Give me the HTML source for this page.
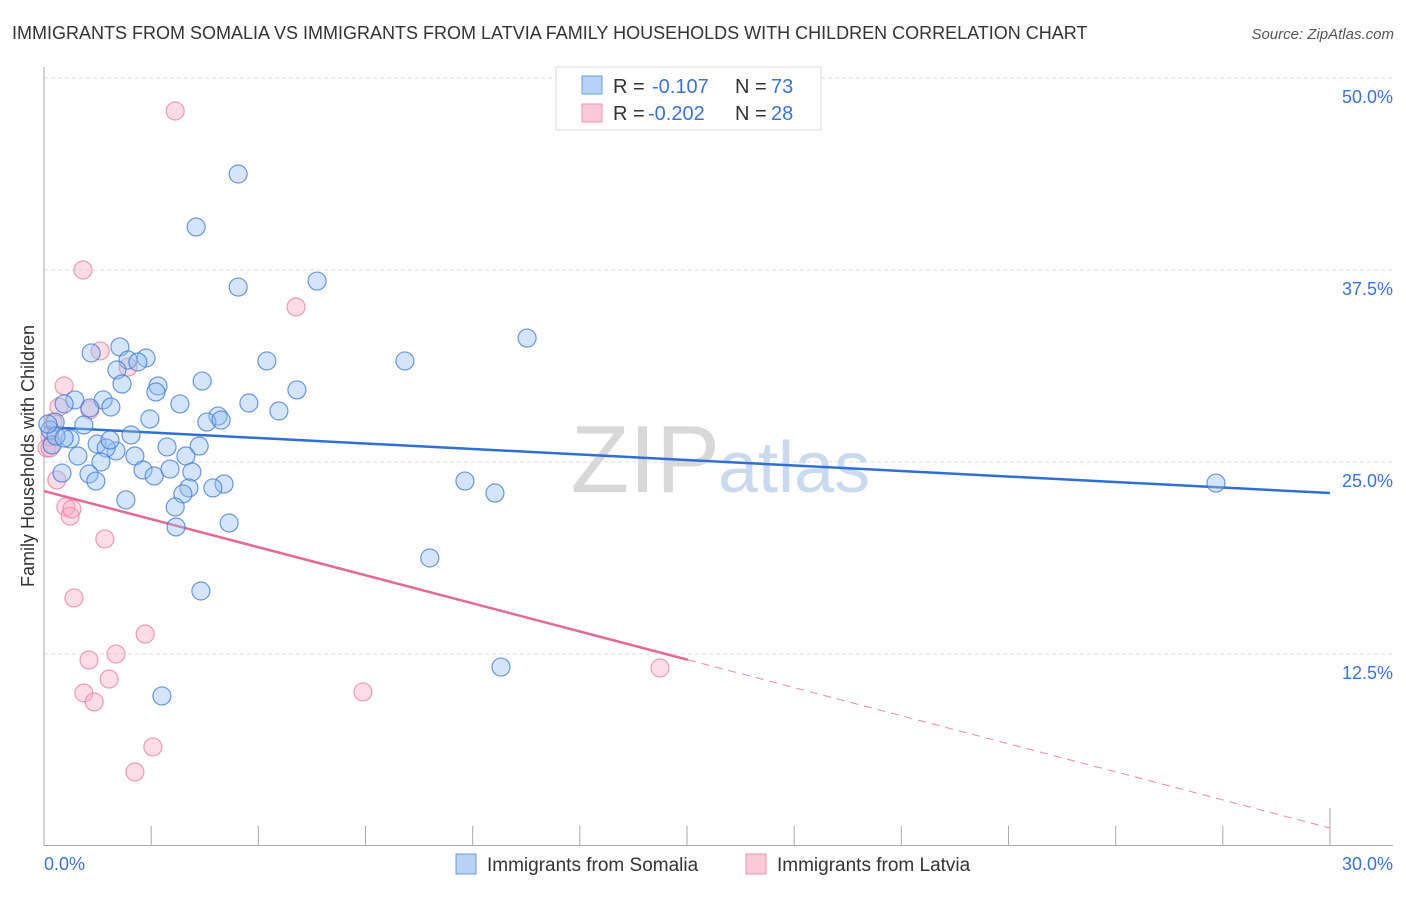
<!DOCTYPE html>
<html><head><meta charset="utf-8"><style>
body{margin:0;background:#fff;font-family:"Liberation Sans",sans-serif;}
svg text{font-family:"Liberation Sans",sans-serif;}
</style></head><body>
<svg id="chart" width="1406" height="892" xmlns="http://www.w3.org/2000/svg">
<text x="12" y="39" font-size="18" fill="#333">IMMIGRANTS FROM SOMALIA VS IMMIGRANTS FROM LATVIA FAMILY HOUSEHOLDS WITH CHILDREN CORRELATION CHART</text>
<text x="1394" y="39" font-size="15" fill="#555" font-style="italic" text-anchor="end">Source: ZipAtlas.com</text>
<text x="720" y="492" font-size="96" fill="#d8d8d8" font-family="Liberation Serif" text-anchor="end">ZIP</text>
<text x="718" y="492" font-size="72" fill="#c9d9f0">atlas</text>
<g id="grid"></g><g id="axes"></g><g id="lines"></g><g id="pts"></g>
<text transform="translate(34,456) rotate(-90)" font-size="18" fill="#333" text-anchor="middle">Family Households with Children</text>
<g>
<rect x="556" y="67" width="265" height="63" fill="#fff" stroke="#ddd"/>
<rect x="582" y="76" width="20" height="18" fill="#b8d2f5" stroke="#6a9ee0"/>
<rect x="582" y="104" width="20" height="18" fill="#fcc9d8" stroke="#ec93ae"/>
<text x="613" y="93" font-size="20" fill="#333">R = </text><text x="652" y="93" font-size="20" fill="#3a74d0">-0.107</text>
<text x="735" y="93" font-size="20" fill="#333">N = </text><text x="771" y="93" font-size="20" fill="#3a74d0">73</text>
<text x="613" y="120" font-size="20" fill="#333">R = </text><text x="648" y="120" font-size="20" fill="#3a74d0">-0.202</text>
<text x="735" y="120" font-size="20" fill="#333">N = </text><text x="771" y="120" font-size="20" fill="#3a74d0">28</text>
</g>
<g>
<rect x="456" y="854" width="20" height="20" fill="#b8d2f5" stroke="#6a9ee0"/>
<text x="487" y="871" font-size="19" fill="#333">Immigrants from Somalia</text>
<rect x="746" y="854" width="20" height="20" fill="#fcc9d8" stroke="#ec93ae"/>
<text x="777" y="871" font-size="19" fill="#333">Immigrants from Latvia</text>
</g>
</svg>
<script>
const xTicks=[0,2.5,5,7.5,10,12.5,15,17.5,20,22.5,25,27.5,30];
const yTicks=[12.5,25,37.5,50];
const yTickLabels=["12.5%","25.0%","37.5%","50.0%"];
const somaliaX=[4.53,3.55,4.53,6.37,11.27,1.10,1.77,2.38,1.96,2.19,5.20,8.42,1.70,1.82,2.66,3.69,2.61,5.90,0.72,1.38,0.47,1.07,1.56,3.17,4.78,5.48,2.47,4.06,3.80,4.13,0.93,0.26,2.03,0.61,1.24,1.68,1.45,2.87,3.62,0.79,2.12,3.31,1.33,2.31,3.45,2.57,2.94,1.05,0.42,1.21,9.82,4.20,3.94,3.38,3.24,10.52,1.91,3.06,4.32,3.08,9.00,3.66,10.66,2.75,27.34,0.14,0.19,0.28,0.09,0.47,1.54];
const somaliaY=[43.75,40.30,36.39,36.78,33.07,32.10,32.49,31.77,31.64,31.51,31.58,31.58,30.99,30.08,29.95,30.27,29.56,29.69,29.04,29.04,28.78,28.52,28.58,28.78,28.84,28.32,27.80,27.99,27.60,27.73,27.41,27.60,26.76,26.50,26.17,25.72,25.91,25.98,26.04,25.39,25.39,25.39,25.00,24.48,24.35,24.09,24.54,24.22,24.28,23.76,23.76,23.57,23.31,23.31,22.92,22.98,22.53,22.07,21.03,20.77,18.75,16.60,11.65,9.77,23.63,27.08,26.11,26.69,27.47,26.56,26.43];
const latviaX=[3.06,0.91,5.88,1.31,1.96,0.47,0.35,1.07,0.21,0.14,0.07,0.30,0.51,0.61,0.65,1.42,0.70,1.05,1.68,2.36,1.52,0.93,1.17,7.44,2.54,2.12,14.37,0.14];
const latviaY=[47.85,37.50,35.09,32.23,31.18,29.95,28.58,28.39,27.60,26.63,25.91,23.83,22.07,21.48,21.94,19.99,16.15,12.11,12.50,13.80,10.87,9.96,9.38,10.03,6.45,4.82,11.59,25.91];
const somaliaTrend=[27.28,22.98]; // value at x=0, x=30
const latviaTrend=[23.11,1.17];
const latviaSolidEnd=15.02;
const X=v=>44+v/30*1286, Y=v=>846-v*15.36;
const NS="http://www.w3.org/2000/svg";
function mk(p,t,a){const e=document.createElementNS(NS,t);for(const k in a)e.setAttribute(k,a[k]);p.appendChild(e);return e;}
const grid=document.getElementById('grid'),axes=document.getElementById('axes'),lines=document.getElementById('lines'),pts=document.getElementById('pts');
yTicks.forEach((v,i)=>{
 const g=mk(grid,'line',{x1:44,x2:1393,y1:Y(v),y2:Y(v),stroke:'#ddd','stroke-dasharray':'4,3'});
 
 
 const t=mk(grid,'text',{x:1393,y:Y(v)+25,'font-size':18,fill:'#3a74d0','text-anchor':'end'});
 t.textContent=yTickLabels[i];
 
 
});
mk(axes,'line',{x1:44,x2:44,y1:67,y2:846,stroke:'#aaa'});
const xa=mk(axes,'line',{x1:44,x2:1393,y1:845.5,y2:845.5,stroke:'#aaa'});


xTicks.forEach((v,i)=>{if(i%1===0&&v>0){const tk=mk(axes,'line',{x1:X(v),x2:X(v),y1:(v===30?808:826),y2:846,stroke:'#aaa'});
 
 }});
[[0,'0.0%','start',44],[30,'30.0%','end',1393]].forEach(d=>{const t=mk(axes,'text',{x:d[3],y:870,'font-size':18,fill:'#3a74d0','text-anchor':d[2]});t.textContent=d[1];
 
 });
function dot(x,y,f,s,n){const c=mk(pts,'circle',{cx:X(x),cy:Y(y),r:9,fill:f,stroke:s,'stroke-width':1.2});
 
 }
latviaX.forEach((x,i)=>dot(x,latviaY[i],'rgba(248,170,195,0.4)','rgba(230,120,155,0.7)','latvia-point'));
somaliaX.forEach((x,i)=>dot(x,somaliaY[i],'rgba(150,190,240,0.4)','rgba(60,120,210,0.75)','somalia-point'));
const bl=mk(lines,'line',{x1:X(0),y1:Y(somaliaTrend[0]),x2:X(30),y2:Y(somaliaTrend[1]),stroke:'#2f6fd3','stroke-width':2.5});


const ly=x=>latviaTrend[0]+(latviaTrend[1]-latviaTrend[0])*x/30;
const pl=mk(lines,'line',{x1:X(0),y1:Y(ly(0)),x2:X(latviaSolidEnd),y2:Y(ly(latviaSolidEnd)),stroke:'#e56a93','stroke-width':2.5});


const pd=mk(lines,'line',{x1:X(latviaSolidEnd),y1:Y(ly(latviaSolidEnd)),x2:X(30),y2:Y(ly(30)),stroke:'#e88aa8','stroke-width':1,'stroke-dasharray':'8,6'});


</script>
</body></html>
